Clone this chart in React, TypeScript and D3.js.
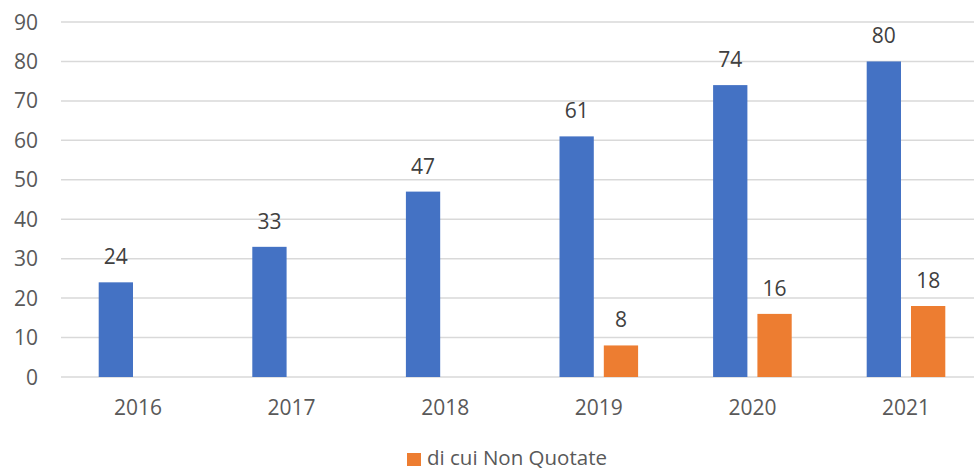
import React from "react";
import * as d3 from "d3";

const years = ["2016", "2017", "2018", "2019", "2020", "2021"];
const totalValues = [24, 33, 47, 61, 74, 80];
const nonQuotateValues: (number | null)[] = [null, null, null, 8, 16, 18];
const yTicks = [0, 10, 20, 30, 40, 50, 60, 70, 80, 90];
const legendLabel = "di cui Non Quotate";

const W = 974;
const H = 470;
const FONT = "'Open Sans', 'Noto Sans', sans-serif";
const FS = 21;

export default function App() {
  const x = d3.scaleBand<string>().domain(years).range([61, 982.6]).padding(0);
  const sub = d3
    .scaleBand<string>()
    .domain(["total", "nonq"])
    .range([37.7, 116.3])
    .paddingInner(0.226)
    .paddingOuter(0);
  const y = d3.scaleLinear().domain([0, 90]).range([377, 22]);

  const series = [
    { key: "total", values: totalValues as (number | null)[], color: "#4472C4" },
    { key: "nonq", values: nonQuotateValues, color: "#ED7D31" },
  ];

  return (
    <svg
      width={W}
      height={H}
      style={{ position: "absolute", left: 0, top: 0, background: "#fff" }}
      fontFamily={FONT}
    >
      <rect x={0} y={0} width={W} height={H} fill="#fff" />
      {yTicks.map((t) => (
        <g key={t}>
          <line x1={61} x2={W} y1={y(t)} y2={y(t)} stroke="#D9D9D9" strokeWidth={1.5} />
          <text x={38} y={y(t) + 7.5} textAnchor="end" fontSize={FS} fill="#595959">
            {t}
          </text>
        </g>
      ))}
      {series.map((s) =>
        years.map((yr, i) => {
          const v = s.values[i];
          if (v == null) return null;
          const bx = (x(yr) as number) + (sub(s.key) as number);
          const bw = sub.bandwidth();
          return (
            <g key={s.key + yr}>
              <rect x={bx} y={y(v)} width={bw} height={y(0) - y(v)} fill={s.color} />
              <text
                x={bx + bw / 2}
                y={y(v) - 18}
                textAnchor="middle"
                fontSize={FS}
                fill="#404040"
              >
                {v}
              </text>
            </g>
          );
        })
      )}
      {years.map((yr) => (
        <text
          key={yr}
          x={(x(yr) as number) + 77}
          y={414.5}
          textAnchor="middle"
          fontSize={FS}
          fill="#595959"
        >
          {yr}
        </text>
      ))}
      <rect x={407} y={453} width={14} height={13} fill="#ED7D31" />
      <text x={427} y={464.5} fontSize={20.5} fill="#595959">
        {legendLabel}
      </text>
    </svg>
  );
}
